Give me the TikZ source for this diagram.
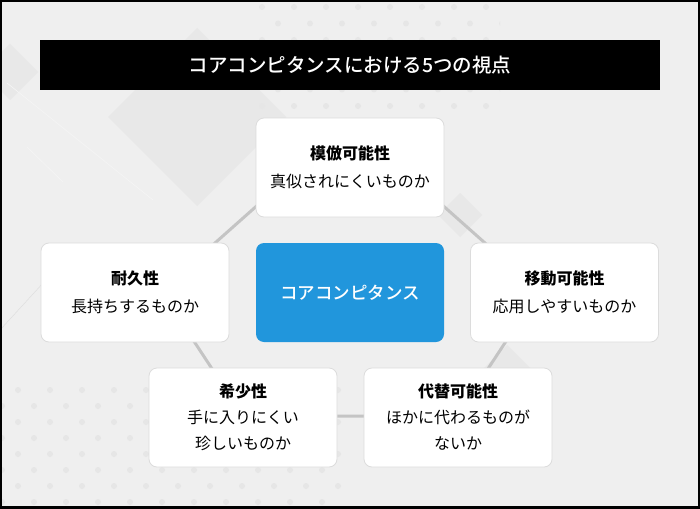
\documentclass[tikz,border=0pt]{standalone}
\usepackage{fontspec}
\setmainfont{Noto Sans CJK JP}
\newfontfamily\jpmed{Noto Sans CJK JP Medium}
\usetikzlibrary{positioning}
\definecolor{bgGray}{HTML}{EFEFEF}
\definecolor{dotGray}{HTML}{E6E6E6}
\definecolor{deco}{HTML}{E8E8E8}
\definecolor{edgeGray}{HTML}{C4C4C4}
\definecolor{cardLine}{HTML}{DCDCDC}
\definecolor{coreBlue}{HTML}{2196DC}

\begin{document}
\begin{tikzpicture}[x=1pt,y=-1pt,
    card/.style={draw=cardLine, line width=0.8pt, fill=white, rounded corners=8pt,
      minimum width=188pt, minimum height=99pt, align=center,
      font=\fontsize{16}{28}\selectfont},
    card3/.style={card, font=\fontsize{16}{26}\selectfont},
    hub/.style={fill=coreBlue, rounded corners=8pt, minimum width=188pt,
      minimum height=99pt, text=white, font=\jpmed\fontsize{17.5}{20}\selectfont},
    banner/.style={fill=black, minimum width=620pt, minimum height=50pt,
      text=white, font=\jpmed\fontsize{19.5}{22}\selectfont}]
    \useasboundingbox (0,0) rectangle (700,508);
    \fill[bgGray] (0,0) rectangle (700,508);

    % background decoration
    \fill[deco] (197,28) -- (286,117) -- (197,206) -- (108,117) -- cycle;
    \fill[deco] (10,44) -- (38,72) -- (10,100) -- (-18,72) -- cycle;
    \fill[deco] (460,193) -- (482,215) -- (460,237) -- (438,215) -- cycle;
    \fill[deco] (507,345) -- (547,385) -- (507,425) -- (467,385) -- cycle;
    \draw[white!35!bgGray, line width=0.6pt] (7,83) -- (153,200);
    \draw[white!35!bgGray, line width=0.6pt] (27,147) -- (63,182);
    \draw[deco!90!gray, line width=0.5pt] (0,330) -- (55,270);
    \begin{scope}
      \clip (250,0) rectangle (500,112);
      \foreach \i in {0,...,8}
        \foreach \j in {0,...,7}
          \fill[dotGray] ({262+32*\i+16*mod(\j,2)},{7+16.5*\j}) circle (3);
    \end{scope}
    \begin{scope}
      \clip (0,380) rectangle (350,508);
      \foreach \i in {0,...,11}
        \foreach \j in {0,...,8}
          \fill[dotGray] ({2+32*\i+16*mod(\j,2)},{374+16*\j}) circle (3);
    \end{scope}

    % pentagon behind the cards
    \coordinate (pTop) at (350,123);
    \coordinate (pLeft) at (161,291);
    \coordinate (pRight) at (539,291);
    \coordinate (pBotL) at (243,416);
    \coordinate (pBotR) at (457,416);
    \draw[edgeGray, line width=3pt] (pTop) -- (pRight) -- (pBotR) -- (pBotL) -- (pLeft) -- cycle;

    \node[banner] (title) at (350,65) {コアコンピタンスにおける5つの視点};

    \node[card] (imit) at (350,167.5) {{\bfseries 模倣可能性}\\真似されにくいものか};
    \node[card] (dura) at (135,292.5) {{\bfseries 耐久性}\\長持ちするものか};
    \node[hub] (core) at (350,292.5) {コアコンピタンス};
    \node[card] (move) at (564.5,292.5) {{\bfseries 移動可能性}\\応用しやすいものか};
    \node[card3] (rare) at (243,417.5) {{\bfseries 希少性}\\手に入りにくい\\珍しいものか};
    \node[card3] (subs) at (458,417.5) {{\bfseries 代替可能性}\\ほかに代わるものが\\ないか};

    \draw[black, line width=4pt] (0,0) rectangle (700,508);
  \end{tikzpicture}
\end{document}
